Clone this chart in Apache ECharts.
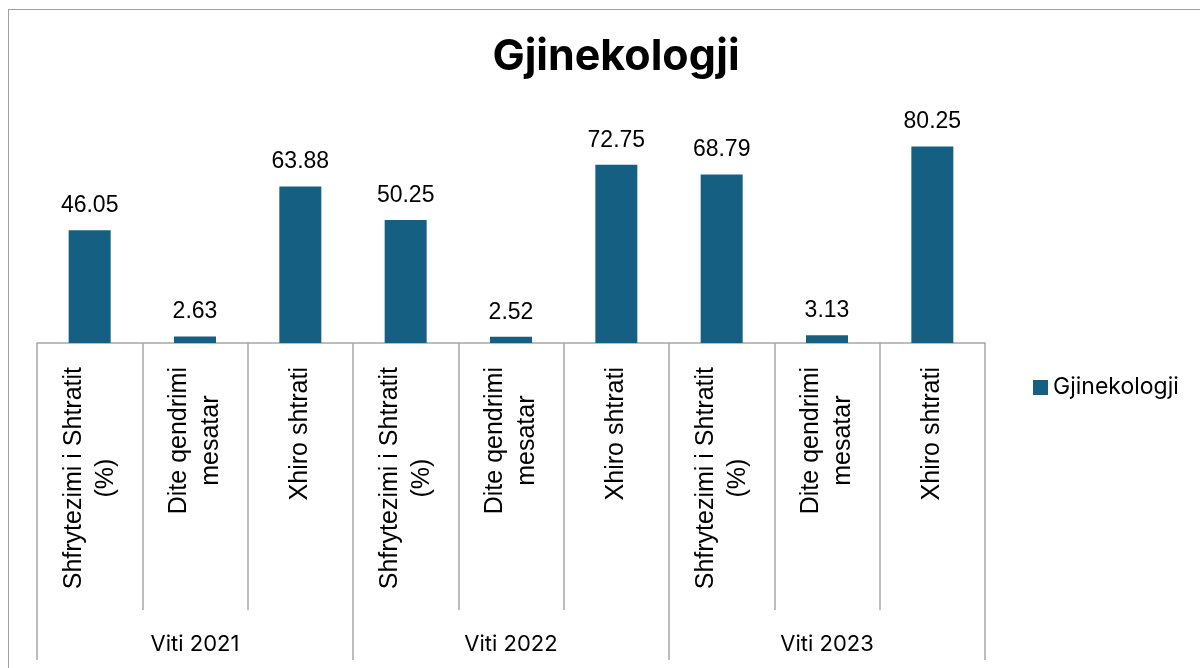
<!DOCTYPE html>
<html>
<head>
<meta charset="utf-8">
<script src="https://cdn.jsdelivr.net/npm/echarts@6/dist/echarts.min.js"></script>
<style>
    html, body { margin: 0; padding: 0; background: #fff; overflow: hidden; }
    #frame { position: absolute; left: 8px; top: 9px; width: 1300px; height: 800px;
             border-left: 1.5px solid #a0a0a0; border-top: 1.5px solid #a0a0a0; }
    #chart { position: absolute; left: 0; top: 0; width: 1200px; height: 668px; }
</style>
</head>
<body>
<div id="frame"></div>
<div id="chart"></div>
<script>
const categories = [
    'Shfrytezimi i Shtratit\n(%)', 'Dite qendrimi\nmesatar', 'Xhiro shtrati',
    'Shfrytezimi i Shtratit\n(%)', 'Dite qendrimi\nmesatar', 'Xhiro shtrati',
    'Shfrytezimi i Shtratit\n(%)', 'Dite qendrimi\nmesatar', 'Xhiro shtrati'
]
const years = [ 'Viti 2021', 'Viti 2022', 'Viti 2023' ]
const values = [ 46.05, 2.63, 63.88, 50.25, 2.52, 72.75, 68.79, 3.13, 80.25 ]

const chart = echarts.init(document.getElementById('chart'))
const axisGray = '#a6a6a6'

chart.setOption({
    title: {
        text: 'Gjinekologji', left: 611, top: 31, textAlign: 'center',
        textStyle: { fontFamily: 'Inter', fontWeight: 'bold', fontSize: 43, color: '#000' }
    },
    legend: {
        left: 1028, top: 371, itemWidth: 15, itemHeight: 15, itemGap: 8,
        icon: 'rect',
        textStyle: { fontFamily: 'Inter', fontSize: 23, color: '#000', padding: [ 0, 0, 0, 0 ] },
        data: [ 'Gjinekologji' ]
    },
    grid: { left: 37, right: 215, top: 98, bottom: 325, containLabel: false },
    xAxis: [
        {
            type: 'category', data: categories, position: 'bottom',
            axisLine: { show: true, lineStyle: { color: axisGray, width: 1.5 } },
            axisTick: { show: true, interval: 0, length: 267, lineStyle: { color: axisGray, width: 1.5 } },
            axisLabel: {
                interval: 0, rotate: 90, margin: 24,
                fontFamily: 'Liberation Sans', fontSize: 25, color: '#000', lineHeight: 32,
                formatter: v => v.split('\n').map(s => '{c|' + s + '}').join('\n'),
                rich: { c: { align: 'center', fontFamily: 'Liberation Sans', fontSize: 25, lineHeight: 32, color: '#000' } }
            }
        },
        {
            type: 'category', data: years, position: 'bottom',
            axisLine: { show: false },
            axisTick: { show: true, interval: 0, length: 317, lineStyle: { color: axisGray, width: 1.5 } },
            axisLabel: { interval: 0, margin: 290, fontFamily: 'Inter', fontSize: 22, color: '#000' }
        }
    ],
    yAxis: { type: 'value', min: 0, max: 100, show: false, splitLine: { show: false } },
    series: [
        {
            name: 'Gjinekologji', type: 'bar', xAxisIndex: 0, data: values, barWidth: 42,
            itemStyle: { color: '#156082' },
            label: {
                show: true, position: 'top', distance: 13,
                formatter: p => p.value.toFixed(2),
                fontFamily: 'Liberation Sans', fontSize: 23, color: '#000'
            }
        }
    ]
})
</script>
</body>
</html>
